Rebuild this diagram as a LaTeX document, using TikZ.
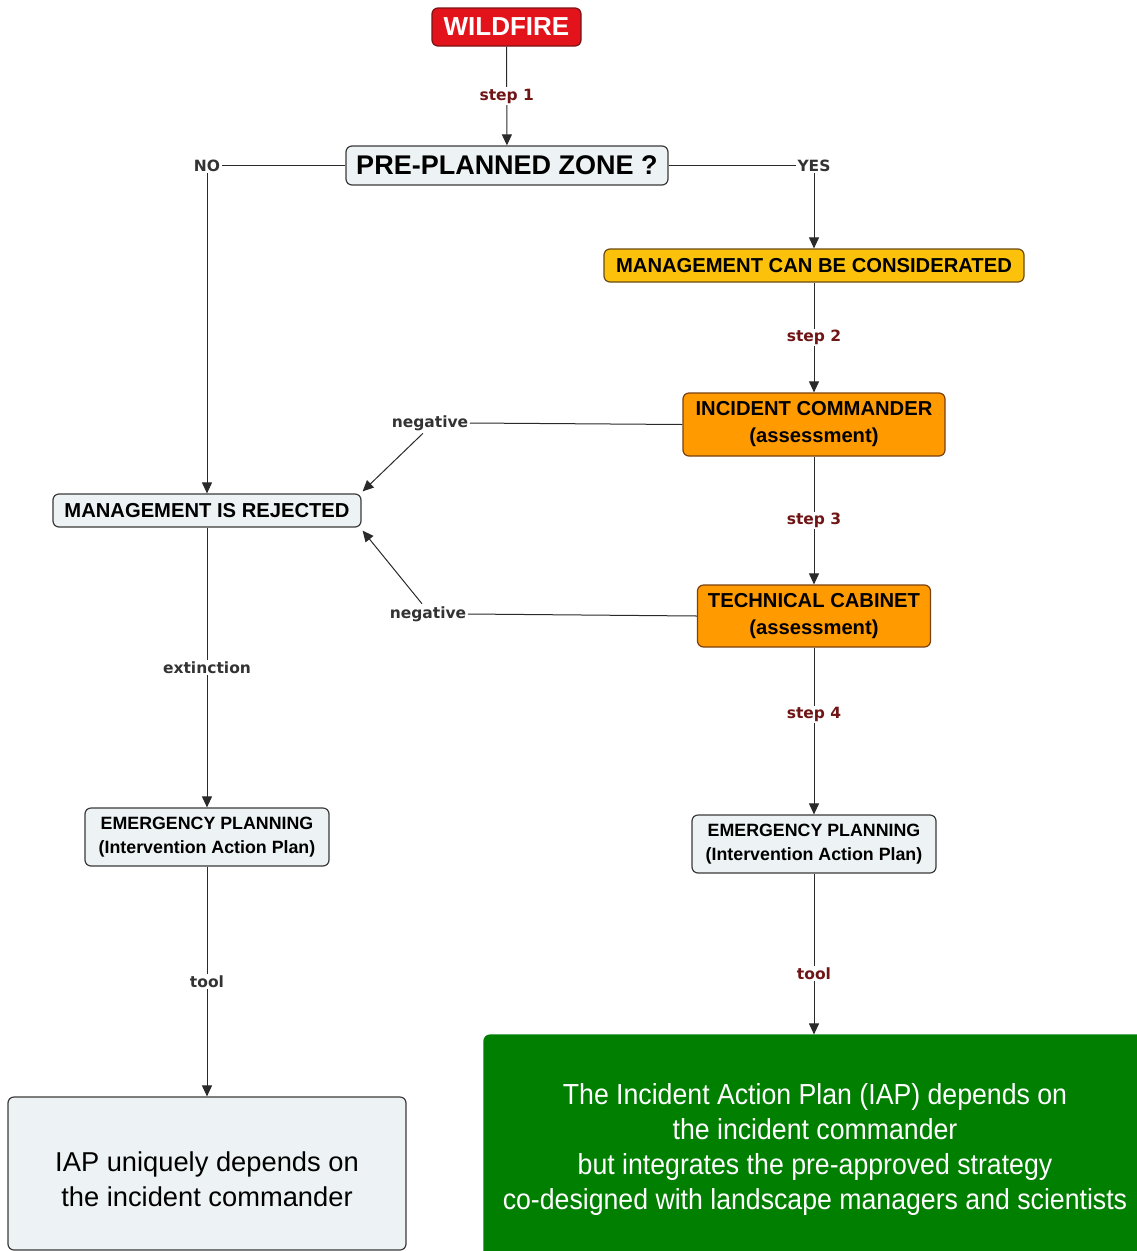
\documentclass[tikz,border=0pt]{standalone}
\usepackage{fontspec}
\setmainfont{Liberation Sans}
\newfontfamily\lblfont{DejaVu Sans}
\newfontfamily\greenfont{Liberation Sans}[FakeStretch=0.92]
\usetikzlibrary{arrows.meta,calc}
\definecolor{firered}{HTML}{E3131B}
\definecolor{fireline}{HTML}{7A1414}
\definecolor{boxfill}{HTML}{EDF2F4}
\definecolor{boxline}{HTML}{3A3A3A}
\definecolor{goldfill}{HTML}{FCC20B}
\definecolor{goldline}{HTML}{6B4A10}
\definecolor{orangefill}{HTML}{FF9A00}
\definecolor{orangeline}{HTML}{7A4010}
\definecolor{greenfill}{HTML}{007F00}
\definecolor{stepred}{HTML}{701515}
\definecolor{labgray}{HTML}{333333}
\definecolor{linegray}{HTML}{2A2A2A}
\begin{document}
\begin{tikzpicture}[x=1pt,y=-1pt,
  base/.style={rounded corners=6pt, line width=1.2pt, align=center, inner sep=0pt, text=black,
    font=\bfseries\fontsize{20.2}{27}\selectfont},
  lightbox/.style={base, draw=boxline, fill=boxfill},
  goldbox/.style={base, draw=goldline, fill=goldfill},
  orangebox/.style={base, draw=orangeline, fill=orangefill},
  epbox/.style={lightbox, minimum width=244pt, minimum height=58pt, font=\bfseries\fontsize{17.8}{24}\selectfont},
  elbl/.style={font=\lblfont\bfseries\fontsize{15.5}{18}\selectfont, fill=white, inner sep=1.5pt, text=labgray},
  steplbl/.style={elbl, text=stepred},
  ln/.style={draw=linegray, line width=1pt},
  arr/.style={ln, -{Triangle[length=11pt,width=10pt]}}]
\useasboundingbox (0,0) rectangle (1137,1251);
\clip (0,0) rectangle (1137,1251);

% nodes
\node[base, draw=fireline, fill=firered, text=white, minimum width=149pt, minimum height=38pt,
  font=\bfseries\fontsize{26}{30}\selectfont] (wf) at (506.5,27) {WILDFIRE};
\node[lightbox, minimum width=322pt, minimum height=39pt,
  font=\bfseries\fontsize{27}{30}\selectfont] (ppz) at (507,165.5) {PRE-PLANNED ZONE ?};
\node[goldbox, minimum width=420pt, minimum height=33pt] (mcbc) at (814,265.5) {MANAGEMENT CAN BE CONSIDERATED};
\node[orangebox, minimum width=262pt, minimum height=63pt] (ic) at (814,424.5) {INCIDENT COMMANDER\\(assessment)};
\node[orangebox, minimum width=233pt, minimum height=62pt] (tc) at (814,616) {TECHNICAL CABINET\\(assessment)};
\node[lightbox, minimum width=308pt, minimum height=33pt] (mir) at (207,510.5) {MANAGEMENT IS REJECTED};
\node[epbox] (epl) at (207,837) {EMERGENCY PLANNING\\(Intervention Action Plan)};
\node[epbox] (epr) at (814,844) {EMERGENCY PLANNING\\(Intervention Action Plan)};
\node[lightbox, minimum width=398pt, minimum height=153pt,
  font=\fontsize{27.3}{35}\selectfont] (iap) at (207,1173.5) {\raisebox{-6pt}[\height][\depth]{\parbox{390pt}{\centering IAP uniquely depends on\\the incident commander}}};
\node[base, draw=greenfill, fill=greenfill, text=white, minimum width=662pt, minimum height=229pt,
  font=\greenfont\fontsize{29}{35}\selectfont] (iapg) at (815,1149.5)
  {The Incident Action Plan (IAP) depends on\\the incident commander\\but integrates the pre-approved strategy\\co-designed with landscape managers and scientists};

% branch labels
\node[elbl] (no) at (207,165.5) {NO};
\node[elbl] (yes) at (814,165.5) {YES};
\node[elbl] (neg1) at (430,423) {negative};
\node[elbl] (neg2) at (428,614) {negative};

% connectors
\draw[arr] (wf) -- node[steplbl] {step 1} (ppz);
\draw[ln] (ppz.west) -- (no.east);
\draw[arr] (no.south) -- (mir.north);
\draw[ln] (ppz.east) -- (yes.west);
\draw[arr] (yes.south) -- (mcbc.north);
\draw[arr] (mcbc) -- node[steplbl] {step 2} (ic);
\draw[arr] (ic) -- node[steplbl] {step 3} (tc);
\draw[arr] (tc.south) -- node[steplbl, pos=0.4] {step 4} (epr.north);
\draw[arr] (epr.south) -- node[steplbl, pos=0.62] {tool} (iapg.north -| epr.south);
\draw[ln] (ic.west) -- (neg1.east);
\draw[ln] (tc.west) -- (neg2.east);
\draw[arr] ($(neg1.south)+(-7,1)$) -- ($(mir.north east)+(1,-2)$);
\draw[arr] ($(neg2.north)+(-6,-1)$) -- ($(mir.south east)+(1,3)$);
\draw[arr] (mir) -- node[elbl] {extinction} (epl);
\draw[arr] (epl) -- node[elbl] {tool} (iap);
\end{tikzpicture}
\end{document}
